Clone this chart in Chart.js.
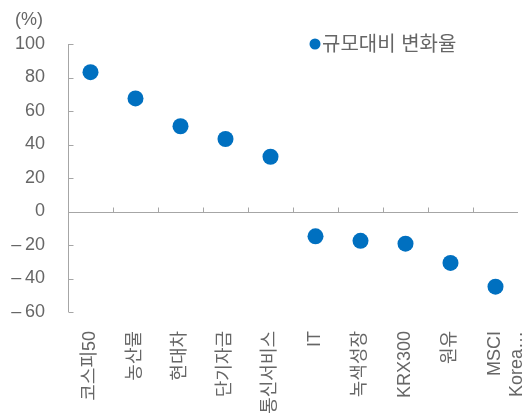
<html>
<head>
<meta charset="utf-8">
<style>
  body { margin: 0; background: #fff; }
  #wrap { width: 526px; height: 414px; }
</style>
</head>
<body>
<div id="wrap"><canvas id="myChart"></canvas></div>
<script src="https://cdn.jsdelivr.net/npm/chart.js"></script>
<script>
var categories = ['코스피50', '농산물', '현대차', '단기자금', '통신서비스', 'IT', '녹색성장', 'KRX300', '원유', ['MSCI', 'Korea…']];
var changeRate = [83.2, 67.5, 50.9, 43.3, 32.7, -14.8, -17.5, -19.2, -30.7, -44.9];
var seriesName = '규모대비 변화율';
var unitLabel = '(%)';

var FONT = "'Liberation Sans', 'Noto Sans CJK KR', sans-serif";
var TEXT = '#666666';
var AXIS = '#a6a6a6';
var BLUE = '#0070c0';

// axis lines, inward ticks, zero line, unit label and legend
var axisPlugin = {
    id: 'axisPlugin',
    afterDraw: function (chart) {
        var c = chart.ctx, a = chart.chartArea;
        var x = chart.scales.x, y = chart.scales.y;
        c.save();
        c.strokeStyle = AXIS;
        c.lineWidth = 1;
        c.beginPath();
        var ax = Math.round(a.left) + 0.5;
        c.moveTo(ax, a.top);
        c.lineTo(ax, a.bottom);
        y.ticks.forEach(function (t) {
            var py = Math.round(y.getPixelForValue(t.value)) + 0.5;
            c.moveTo(ax, py);
            c.lineTo(ax + 5, py);
        });
        var zy = Math.round(y.getPixelForValue(0)) + 0.5;
        c.moveTo(ax, zy);
        c.lineTo(a.right, zy);
        for (var i = 1; i < categories.length; i++) {
            var bx = Math.round((x.getPixelForValue(i - 1) + x.getPixelForValue(i)) / 2) + 0.5;
            c.moveTo(bx, zy);
            c.lineTo(bx, zy - 5);
        }
        c.stroke();

        c.fillStyle = TEXT;
        c.font = '18px ' + FONT;
        c.textBaseline = 'middle';
        c.textAlign = 'left';
        c.fillText(unitLabel, 15, 20);

        // legend
        var lx = a.left + 247, ly = a.top;
        c.fillStyle = BLUE;
        c.beginPath();
        c.arc(lx, ly, 5.5, 0, Math.PI * 2);
        c.fill();
        c.fillStyle = TEXT;
        c.font = '20px ' + FONT;
        c.fillText(chart.data.datasets[0].label, lx + 7, ly + 1);
        c.restore();
    }
};

var ctx = document.getElementById('myChart').getContext('2d');
var myChart = new Chart(ctx, {
    type: 'line',
    data: {
        labels: categories,
        datasets: [{
            label: seriesName,
            data: changeRate,
            showLine: false,
            pointRadius: 8,
            pointHoverRadius: 8,
            pointBackgroundColor: BLUE,
            pointBorderColor: BLUE,
            pointBorderWidth: 0
        }]
    },
    options: {
        responsive: true,
        maintainAspectRatio: false,
        animation: false,
        layout: { padding: { top: 44, right: -3, left: 0, bottom: 0 } },
        plugins: { legend: { display: false }, tooltip: { enabled: false } },
        scales: {
            x: {
                offset: true,
                grid: { display: false },
                border: { display: false },
                afterFit: function (s) { s.height = 102; s.paddingLeft = 0; s.paddingRight = 0; },
                ticks: {
                    autoSkip: false,
                    maxRotation: 90,
                    minRotation: 90,
                    padding: 11,
                    color: TEXT,
                    font: { family: FONT, size: 18 }
                }
            },
            y: {
                min: -60,
                max: 100,
                grid: { display: false, drawTicks: false },
                border: { display: false },
                afterFit: function (s) { s.width = 68; },
                ticks: {
                    stepSize: 20,
                    padding: 23,
                    color: TEXT,
                    font: { family: FONT, size: 18 },
                    callback: function (v) { return v < 0 ? '\u2013\u2009' + Math.abs(v) : String(v); }
                }
            }
        }
    },
    plugins: [axisPlugin]
});
</script>
</body>
</html>
